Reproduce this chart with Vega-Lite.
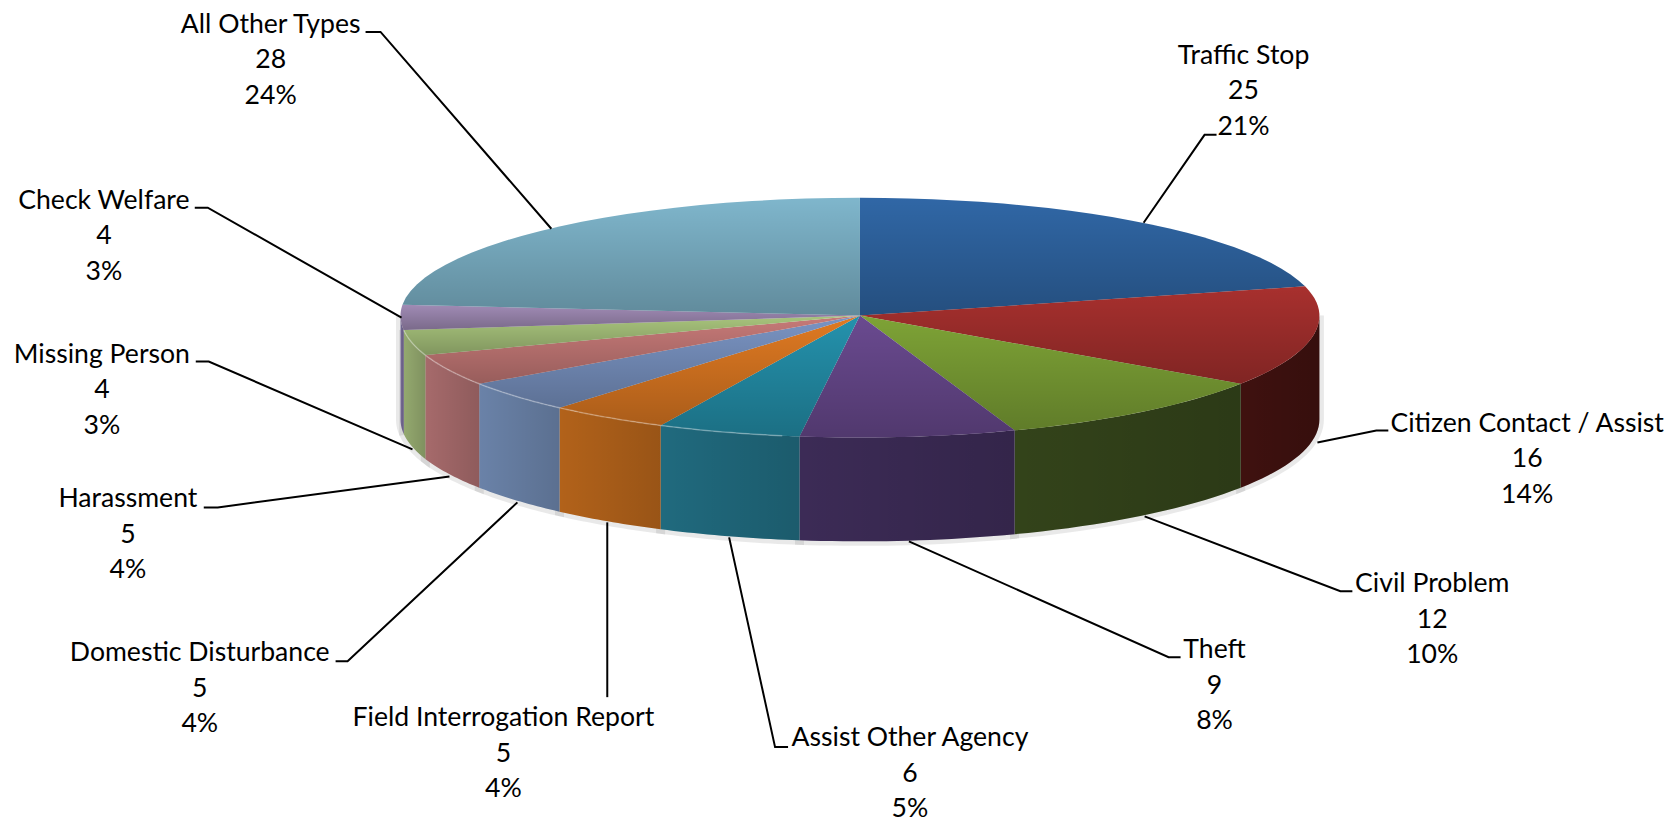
{"$schema":"https://vega.github.io/schema/vega-lite/v6.json","autosize":{"type":"fit","contains":"padding"},"padding":0,"width":1665,"height":823,"background":"white","view":{"stroke":null},
"datasets":{
"calls":[
{"rank":1,"type":"Traffic Stop","count":25,"pct":"21%"},
{"rank":2,"type":"Citizen Contact / Assist","count":16,"pct":"14%"},
{"rank":3,"type":"Civil Problem","count":12,"pct":"10%"},
{"rank":4,"type":"Theft","count":9,"pct":"8%"},
{"rank":5,"type":"Assist Other Agency","count":6,"pct":"5%"},
{"rank":6,"type":"Field Interrogation Report","count":5,"pct":"4%"},
{"rank":7,"type":"Domestic Disturbance","count":5,"pct":"4%"},
{"rank":8,"type":"Harassment","count":5,"pct":"4%"},
{"rank":9,"type":"Missing Person","count":4,"pct":"3%"},
{"rank":10,"type":"Check Welfare","count":4,"pct":"3%"},
{"rank":11,"type":"All Other Types","count":28,"pct":"24%"}],
"callouts":[
{"type":"Traffic Stop","labelX":384,"labelY":273,"lineX":[284,345,357],"lineY":[93,181,181],"lineOrder":[0,1,2]},
{"type":"Citizen Contact / Assist","labelX":668,"labelY":-95,"lineX":[458,517,529],"lineY":[-127,-115,-115],"lineOrder":[0,1,2]},
{"type":"Civil Problem","labelX":573,"labelY":-256,"lineX":[285,481,493],"lineY":[-201,-276,-276],"lineOrder":[0,1,2]},
{"type":"Theft","labelX":355,"labelY":-322,"lineX":[49,309,321],"lineY":[-226,-342,-342],"lineOrder":[0,1,2]},
{"type":"Assist Other Agency","labelX":50,"labelY":-410,"lineX":[-131,-85,-72],"lineY":[-222,-432,-432],"lineOrder":[0,1,2]},
{"type":"Field Interrogation Report","labelX":-357,"labelY":-390,"lineX":[-253,-253],"lineY":[-207,-382],"lineOrder":[0,1]},
{"type":"Domestic Disturbance","labelX":-661,"labelY":-325,"lineX":[-343,-513,-525],"lineY":[-187,-346,-346],"lineOrder":[0,1,2]},
{"type":"Harassment","labelX":-733,"labelY":-171,"lineX":[-411,-643,-657],"lineY":[-161,-192,-192],"lineOrder":[0,1,2]},
{"type":"Missing Person","labelX":-759,"labelY":-26,"lineX":[-448,-652,-665],"lineY":[-134,-46,-46],"lineOrder":[0,1,2]},
{"type":"Check Welfare","labelX":-757,"labelY":128,"lineX":[-459,-653,-666],"lineY":[-2,108,108],"lineOrder":[0,1,2]},
{"type":"All Other Types","labelX":-590,"labelY":304,"lineX":[-309,-480,-495],"lineY":[87,284,284],"lineOrder":[0,1,2]}]
},
"data":{"name":"calls"},
"transform":[
{"joinaggregate":[{"op":"sum","field":"count","as":"total"}]},
{"window":[{"op":"sum","field":"count","as":"cumulative"}],"sort":[{"field":"rank"}]},
{"calculate":"2*PI*(datum.cumulative-datum.count)/datum.total","as":"t0"},
{"calculate":"2*PI*datum.cumulative/datum.total","as":"t1"}
],
"resolve":{"scale":{"fill":"independent","stroke":"independent"}},
"layer":[
{"transform":[
{"filter":"datum.t1>PI/2 && datum.t0<3*PI/2"},
{"calculate":"[0,0.05,0.1,0.15,0.2,0.25,0.3,0.35,0.4,0.45,0.5,0.55,0.6,0.65,0.7,0.75,0.8,0.85,0.9,0.95,1,1.05,1.1,1.15,1.2,1.25,1.3,1.35,1.4,1.45,1.5,1.55,1.6,1.65,1.7,1.75,1.8,1.85,1.9,1.95,2,2.05]","as":"f"},
{"flatten":["f"]},
{"calculate":"max(datum.t0,PI/2)+(datum.f<=1?datum.f:2.05-datum.f)*(min(datum.t1,3*PI/2)-max(datum.t0,PI/2))","as":"th"},
{"calculate":"460*sin(datum.th)","as":"px"},
{"calculate":"122*cos(datum.th)-(datum.f>1?104:0)","as":"py"}],
"encoding":{"x":{"field":"px","type":"quantitative","scale":{"domain":[-861,804]},"axis":null},"y":{"field":"py","type":"quantitative","scale":{"domain":[-507,316]},"axis":null},"detail":{"field":"type"},"order":{"field":"f"}},
"layer":[
{"mark":{"type":"line","interpolate":"linear-closed","stroke":"#777777","strokeWidth":9,"opacity":0.16}},
{"mark":{"type":"line","interpolate":"linear-closed","strokeWidth":0},
"encoding":{"fill":{"field":"type","type":"nominal","legend":null,"scale":{"domain":["Citizen Contact / Assist","Civil Problem","Theft","Assist Other Agency","Field Interrogation Report","Domestic Disturbance","Harassment","Missing Person","Check Welfare"],"range":["#3f110f","#33431a","#3c2b56","#206a7e","#b2621a","#6a82a8","#a66a6b","#94a96f","#756a95"]}}}},
{"mark":{"type":"line","interpolate":"linear-closed","strokeWidth":0,"fill":{"gradient":"linear","x1":0,"y1":0,"x2":1,"y2":0,"stops":[{"offset":0,"color":"rgba(0,0,0,0)"},{"offset":1,"color":"rgba(0,0,0,0.14)"}]}}}
]},
{"transform":[
{"calculate":"[-1,0,0.04,0.08,0.12,0.16,0.2,0.24,0.28,0.32,0.36,0.4,0.44,0.48,0.52,0.56,0.6,0.64,0.68,0.72,0.76,0.8,0.84,0.88,0.92,0.96,1]","as":"f"},
{"flatten":["f"]},
{"calculate":"datum.t0+datum.f*(datum.t1-datum.t0)","as":"th"},
{"calculate":"datum.f<0?0:460*sin(datum.th)","as":"px"},
{"calculate":"datum.f<0?0:(cos(datum.th)>0?118:122)*cos(datum.th)","as":"py"}],
"encoding":{"x":{"field":"px","type":"quantitative","scale":{"domain":[-861,804]},"axis":null},"y":{"field":"py","type":"quantitative","scale":{"domain":[-507,316]},"axis":null},"detail":{"field":"type"},"order":{"field":"f"}},
"layer":[
{"mark":{"type":"line","interpolate":"linear-closed","strokeWidth":0},
"encoding":{"fill":{"field":"type","type":"nominal","legend":null,"scale":{"domain":["Traffic Stop","Citizen Contact / Assist","Civil Problem","Theft","Assist Other Agency","Field Interrogation Report","Domestic Disturbance","Harassment","Missing Person","Check Welfare","All Other Types"],"range":["#3067a6","#a8302e","#7ea336","#6a4a90","#2492ad","#e07a22","#7a94c3","#c77a78","#a8c47c","#a08bb5","#7fb6cc"]}}}},
{"mark":{"type":"line","interpolate":"linear-closed","strokeWidth":0,"fill":{"gradient":"linear","x1":0,"y1":0,"x2":0,"y2":1,"stops":[{"offset":0,"color":"rgba(0,0,0,0)"},{"offset":1,"color":"rgba(0,0,0,0.24)"}]}}},
{"transform":[{"filter":"datum.f>=0 && datum.th>3.3 && datum.th<4.6"}],"mark":{"type":"line","stroke":"white","strokeWidth":1.5,"opacity":0.3}}
]},
{"transform":[
{"lookup":"type","from":{"data":{"name":"callouts"},"key":"type","fields":["lineX","lineY","lineOrder"]}},
{"flatten":["lineX","lineY","lineOrder"]}],
"mark":{"type":"line","color":"black","strokeWidth":2},
"encoding":{"x":{"field":"lineX","type":"quantitative","scale":{"domain":[-861,804]},"axis":null},"y":{"field":"lineY","type":"quantitative","scale":{"domain":[-507,316]},"axis":null},"detail":{"field":"type"},"order":{"field":"lineOrder"}}},
{"transform":[
{"lookup":"type","from":{"data":{"name":"callouts"},"key":"type","fields":["labelX","labelY"]}},
{"calculate":"datum.type+'\\n'+datum.count+'\\n'+datum.pct","as":"label"}],
"mark":{"type":"text","font":"Lato","fontSize":26.6,"lineBreak":"\n","lineHeight":35.5,"align":"center","baseline":"top","color":"black"},
"encoding":{"x":{"field":"labelX","type":"quantitative","scale":{"domain":[-861,804]},"axis":null},"y":{"field":"labelY","type":"quantitative","scale":{"domain":[-507,316]},"axis":null},"text":{"field":"label"}}}
]}
